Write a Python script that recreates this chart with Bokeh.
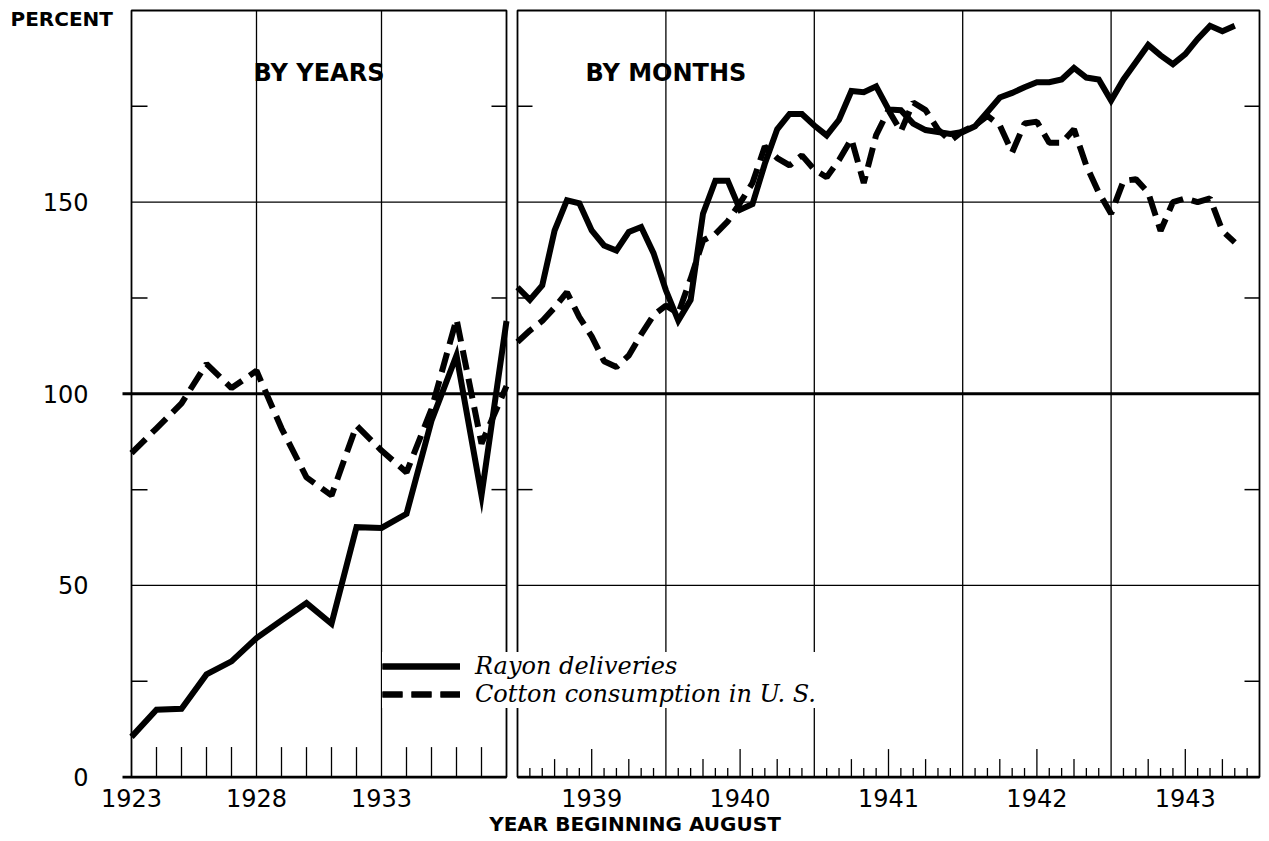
from bokeh.plotting import figure
from bokeh.models import (Range1d, LinearAxis, FixedTicker, BoxAnnotation,
                          Label, Legend, LegendItem)
from bokeh.core.properties import value
from bokeh.embed import file_html
from bokeh.resources import INLINE

# ---------------- data ----------------
years = list(range(1923, 1939))            # year beginning August
rayon_annual = [10.5, 17.6, 17.8, 26.8, 30.2, 36.3, 40.9, 45.4,
                40.0, 65.2, 65.0, 68.7, 93.0, 110.0, 73.5, 119.0]
cotton_annual = [84.5, 91.0, 97.5, 107.8, 101.5, 106.0, 91.0, 78.2,
                 73.5, 91.7, 85.2, 79.5, 96.0, 119.5, 87.0, 102.0]

month_index = list(range(59))              # 0 = August 1939
rayon_monthly = [
    127.8, 124.5, 128.3, 142.6, 150.5, 149.7, 142.6, 138.7, 137.4, 142.2, 143.5, 136.7,
    127.0, 119.1, 124.5, 147.0, 155.6, 155.6, 148.0, 149.5, 160.0, 169.0, 173.0, 173.0,
    170.0, 167.4, 171.5, 179.0, 178.7, 180.2, 174.2, 174.0, 170.5, 168.8, 168.3, 167.8,
    168.3, 169.8, 173.5, 177.3, 178.5, 180.0, 181.3, 181.3, 182.0, 185.0, 182.5, 182.0,
    176.5, 182.0, 186.5, 191.0, 188.3, 186.0, 188.6, 192.6, 196.0, 194.6, 196.0]
cotton_monthly = [
    113.5, 116.5, 119.0, 122.5, 126.5, 120.0, 115.0, 108.5, 107.0, 110.0, 115.5, 120.5,
    123.0, 121.0, 130.0, 140.0, 141.7, 145.0, 149.8, 155.0, 164.5, 161.5, 159.6, 162.2,
    158.5, 156.5, 161.0, 166.5, 155.0, 167.5, 174.0, 168.5, 176.0, 174.0, 169.0, 166.0,
    168.5, 170.0, 172.5, 170.0, 163.0, 170.5, 171.0, 165.5, 165.5, 169.0, 159.5, 152.5,
    147.0, 155.5, 156.0, 152.5, 142.5, 150.0, 151.0, 150.0, 151.0, 142.5, 139.5]

annual_label_years = [1923, 1928, 1933]
monthly_label_years = [1939, 1940, 1941, 1942, 1943]
y_label_ticks = [0, 50, 100, 150]
y_minor_ticks = [25, 75, 125, 175]
y_grid_ticks = [50, 150]
series_names = ["Rayon deliveries", "Cotton consumption in U. S."]

# ---------------- layout (pixels) ----------------
FRAME_W, FRAME_H = 1269, 786
PX_A = 25.0                 # px per year in the annual panel
PX_M = 148.4                # px per year in the monthly panel
A_LEFT_PX = 131             # 1923 position
M_LEFT_PX = 517             # August 1939 position
Y0_PX, Y200_PX = 776.6, 10.0
Y_TOP = 200
PX_Y = (Y0_PX - Y200_PX) / Y_TOP

first_month_year = 1939
last_month_year = first_month_year + 5
a_first, a_last = years[0], years[-1]

xa = Range1d(a_first - A_LEFT_PX / PX_A, a_first - A_LEFT_PX / PX_A + FRAME_W / PX_A)
xm = Range1d(first_month_year - M_LEFT_PX / PX_M,
             first_month_year - M_LEFT_PX / PX_M + FRAME_W / PX_M)
yr = Range1d(-(FRAME_H - Y0_PX) / PX_Y, Y_TOP + Y200_PX / PX_Y)

def ann_x(px):
    return xa.start + px / PX_A

def mon_to_ann(v):
    return xa.start + (v - xm.start) * PX_M / PX_A

month_x = [first_month_year + m / 12 for m in month_index]

FONT = "DejaVu Sans"
BLACK = "black"

p = figure(frame_width=FRAME_W, frame_height=FRAME_H, x_range=xa, y_range=yr,
           x_axis_type=None, y_axis_type=None, output_backend="svg", toolbar_location=None,
           min_border_left=0, min_border_right=0, min_border_top=0, min_border_bottom=55)
p.extra_x_ranges = {"m": xm}
p.outline_line_color = None
p.background_fill_color = "white"
p.border_fill_color = "white"

# ---- bottom axis: year labels ----
mon_ticks = [round(mon_to_ann(y + 0.5), 6) for y in monthly_label_years]
overrides = {float(y): str(y) for y in annual_label_years}
overrides.update({t: str(y) for t, y in zip(mon_ticks, monthly_label_years)})
xax = LinearAxis(ticker=FixedTicker(ticks=[float(y) for y in annual_label_years] + mon_ticks),
                 major_label_overrides=overrides,
                 axis_line_color=None, major_tick_in=0, major_tick_out=0,
                 major_label_standoff=2, major_label_text_font=FONT,
                 major_label_text_font_size="24px", major_label_text_color=BLACK,
                 axis_label="YEAR BEGINNING AUGUST", axis_label_standoff=2,
                 axis_label_text_font=FONT, axis_label_text_font_style="bold",
                 axis_label_text_font_size="20px", axis_label_text_color=BLACK)
p.add_layout(xax, "below")

# ---- panel frames ----
for rng, lo, hi in (("default", a_first, a_last), ("m", first_month_year, last_month_year)):
    p.add_layout(BoxAnnotation(left=lo, right=hi, bottom=0, top=Y_TOP, x_range_name=rng,
                               fill_color=None, fill_alpha=0, line_color=BLACK,
                               line_alpha=1, line_width=1.8, level="underlay"))

# ---- grid lines (per panel) ----
GW = 1.3
ext = 9 / PX_A
p.segment(x0=[a_first] * len(y_grid_ticks), y0=y_grid_ticks, x1=[a_last] * len(y_grid_ticks),
          y1=y_grid_ticks, line_color=BLACK, line_width=GW)
p.segment(x0=[first_month_year] * len(y_grid_ticks), y0=y_grid_ticks,
          x1=[last_month_year] * len(y_grid_ticks), y1=y_grid_ticks, x_range_name="m",
          line_color=BLACK, line_width=GW)
# 100 line and base line (thicker, extending a little left of the axis)
p.segment(x0=[a_first - ext] * 2, y0=[0, 100], x1=[a_last] * 2, y1=[0, 100],
          line_color=BLACK, line_width=[2.6, 3.0])
p.segment(x0=[first_month_year] * 2, y0=[0, 100], x1=[last_month_year] * 2, y1=[0, 100],
          x_range_name="m", line_color=BLACK, line_width=[2.6, 3.0])
a_vgrid = [1928, 1933]
m_vgrid = [1940, 1941, 1942, 1943]
p.segment(x0=a_vgrid, y0=[0] * 2, x1=a_vgrid, y1=[Y_TOP] * 2, line_color=BLACK, line_width=GW)
p.segment(x0=m_vgrid, y0=[0] * 4, x1=m_vgrid, y1=[Y_TOP] * 4, x_range_name="m",
          line_color=BLACK, line_width=GW)

# ---- tick marks ----
TW = 1.3
yr_minor = [y for y in years[1:-1] if y not in a_vgrid]
p.segment(x0=yr_minor, y0=[0] * len(yr_minor), x1=yr_minor,
          y1=[30 / PX_Y] * len(yr_minor), line_color=BLACK, line_width=TW)
mt_x, mt_h = [], []
for m in range(1, 60):
    if m % 12 == 0:
        continue
    mt_x.append(first_month_year + m / 12)
    mt_h.append((28 if m % 12 == 6 else 18 if m % 12 in (3, 9) else 9) / PX_Y)
p.segment(x0=mt_x, y0=[0] * len(mt_x), x1=mt_x, y1=mt_h, x_range_name="m",
          line_color=BLACK, line_width=TW)
n = len(y_minor_ticks)
p.segment(x0=[a_first] * n, y0=y_minor_ticks, x1=[a_first + 16 / PX_A] * n,
          y1=y_minor_ticks, line_color=BLACK, line_width=1.5)
p.segment(x0=[a_last] * n, y0=y_minor_ticks, x1=[a_last - 15 / PX_A] * n,
          y1=y_minor_ticks, line_color=BLACK, line_width=1.5)
p.segment(x0=[first_month_year] * n, y0=y_minor_ticks,
          x1=[first_month_year + 15 / PX_M] * n, y1=y_minor_ticks, x_range_name="m",
          line_color=BLACK, line_width=1.5)
p.segment(x0=[last_month_year] * n, y0=y_minor_ticks,
          x1=[last_month_year - 15 / PX_M] * n, y1=y_minor_ticks, x_range_name="m",
          line_color=BLACK, line_width=1.5)

# ---- y tick labels ----
p.text(x=[ann_x(88)] * len(y_label_ticks), y=y_label_ticks,
       text=[str(v) for v in y_label_ticks], text_align="right", text_baseline="middle",
       text_font=value(FONT), text_font_size=value("24px"), text_color=BLACK)

# ---- data lines ----
LW = 6
DASH = "20 9"
r1 = p.line(years, rayon_annual, line_color=BLACK, line_width=LW, line_join="miter")
r2 = p.line(month_x, rayon_monthly, line_color=BLACK, line_width=LW, line_join="miter",
            x_range_name="m")
r3 = p.line(years, cotton_annual, line_color=BLACK, line_width=LW, line_dash=DASH)
r4 = p.line(month_x, cotton_monthly, line_color=BLACK, line_width=LW, line_dash=DASH,
            x_range_name="m")

legend = Legend(items=[LegendItem(label=series_names[0], renderers=[r1, r2]),
                       LegendItem(label=series_names[1], renderers=[r3, r4])],
                location=(382, FRAME_H - 708), orientation="vertical",
                glyph_width=78, glyph_height=28, label_height=28, label_standoff=15,
                padding=8, spacing=0, margin=0,
                label_text_font="DejaVu Serif", label_text_font_style="italic",
                label_text_font_size="24px", label_text_color=BLACK,
                background_fill_color="white", background_fill_alpha=1.0,
                border_line_color=None)
p.add_layout(legend)

# ---- texts ----
title_y = Y_TOP - 62 / PX_Y
p.add_layout(Label(x=ann_x(10), y=Y_TOP - 8 / PX_Y, text="PERCENT",
                   text_font=FONT, text_font_style="bold", text_font_size="20px",
                   text_align="left", text_baseline="middle", text_color=BLACK))
p.add_layout(Label(x=(a_first + a_last) / 2, y=title_y, text="BY YEARS",
                   text_font=FONT, text_font_style="bold", text_font_size="24px",
                   text_align="center", text_baseline="middle", text_color=BLACK))
p.add_layout(Label(x=first_month_year + 1.0, y=title_y, x_range_name="m", text="BY MONTHS",
                   text_font=FONT, text_font_style="bold", text_font_size="24px",
                   text_align="center", text_baseline="middle", text_color=BLACK))

open("out.html", "w").write(file_html(p, INLINE, "Rayon deliveries and cotton consumption"))
